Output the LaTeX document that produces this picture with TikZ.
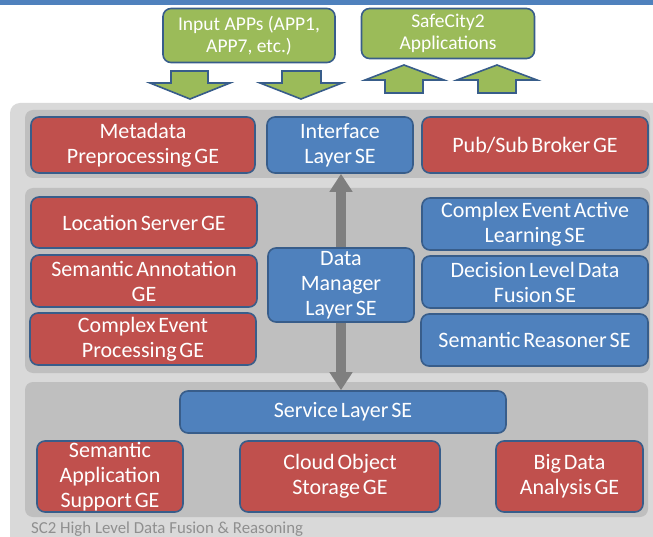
\documentclass[tikz,border=0pt]{standalone}
\usepackage{fontspec}
\setmainfont{Carlito}
\usetikzlibrary{arrows.meta}

\definecolor{topbar}{HTML}{4F81BD}
\definecolor{outerpanel}{HTML}{D9D9D9}
\definecolor{band}{HTML}{BFBFBF}
\definecolor{gered}{HTML}{C0504D}
\definecolor{seblue}{HTML}{4F81BD}
\definecolor{appgreen}{HTML}{9BBB59}
\definecolor{edge}{HTML}{385D8A}
\definecolor{linkgray}{HTML}{7F7F7F}
\definecolor{captiongray}{HTML}{8F8F8F}

\pgfdeclarelayer{panels}
\pgfdeclarelayer{links}
\pgfsetlayers{panels,links,main}

\newcommand{\boxfont}{\fontsize{22}{25}\selectfont\spaceskip=0.13em plus 0.05em\relax}

\begin{document}
\begin{tikzpicture}[x=1pt,y=-1pt,
  box/.style={draw=edge, line width=1.6pt, rounded corners=8pt, text=white,
    align=center, inner sep=0pt, font=\boxfont},
  ge/.style={box, fill=gered},
  se/.style={box, fill=seblue},
  app/.style={box, fill=appgreen, font=\fontsize{19.5}{22.5}\selectfont},
  wh/.style 2 args={minimum width=#1pt, minimum height=#2pt},
  blockarrow/.style={draw=edge, line width=1.6pt, fill=appgreen, line join=miter},
  band/.style={fill=band, rounded corners=8pt},
  link/.style={draw=linkgray, line width=10pt,
    {Triangle[width=22pt,length=18pt]}-{Triangle[width=22pt,length=18pt]}}
]
\useasboundingbox (0,0) rectangle (653,537);
\clip (0,0) rectangle (653,537);

% header strip
\fill[topbar] (0,0) rectangle (653,5);

% application boxes
\node[app, wh={172}{54}] (input) at (249,35.5) {Input APPs (APP1,\\APP7, etc.)};
\node[app, wh={173}{50}] (safecity) at (448,33.5) {SafeCity2\\Applications};

% block arrows into and out of the fusion platform
\draw[blockarrow] (171,71) -- (208,71) -- (208,83) -- (230,83) -- (190,99) -- (150,83) -- (171,83) -- cycle;
\draw[blockarrow] (282,71) -- (321,71) -- (321,83) -- (342,83) -- (301,99) -- (260,83) -- (282,83) -- cycle;
\draw[blockarrow] (385,93) -- (423,93) -- (423,80) -- (444,80) -- (404,65) -- (365,80) -- (385,80) -- cycle;
\draw[blockarrow] (478,93) -- (516,93) -- (516,80) -- (537,80) -- (497,65) -- (457,80) -- (478,80) -- cycle;

% platform panel and its three bands
\begin{pgfonlayer}{panels}
  \fill[outerpanel, rounded corners=10pt] (10,103) rectangle (700,600);
  \fill[band] (25,110) rectangle (650,178);
  \fill[band] (25,188) rectangle (650,373);
  \fill[band] (25,382) rectangle (648,517);
\end{pgfonlayer}

% top band
\node[ge, wh={224}{56}] (meta) at (143,145) {Metadata\\Preprocessing GE};
\node[se, wh={146}{56}] (iface) at (340,145) {Interface\\Layer SE};
\node[ge, wh={226}{56}] (pubsub) at (535,145) {Pub/Sub Broker GE};

% middle band
\node[ge, wh={226}{51}] (location) at (144,222.5) {Location Server GE};
\node[ge, wh={226}{52}] (annot) at (144,281) {Semantic Annotation\\GE};
\node[ge, wh={226}{52}] (cep) at (143,339) {Complex Event\\Processing GE};
\node[se, wh={146}{74}] (datamgr) at (341,285) {Data\\Manager\\Layer SE};
\node[se, wh={226}{52}] (ceal) at (535,224) {Complex Event Active\\Learning SE};
\node[se, wh={226}{52}] (dldf) at (535,282) {Decision Level Data\\Fusion SE};
\node[se, wh={227}{52}] (reasoner) at (534.5,340) {Semantic Reasoner SE};

% bottom band
\node[se, wh={326}{42}] (service) at (343,412) {Service Layer SE};
\node[ge, wh={146}{71}] (appsupport) at (110,476.5) {Semantic\\Application\\Support GE};
\node[ge, wh={200}{71}] (cloud) at (340,476.5) {Cloud Object\\Storage GE};
\node[ge, wh={147}{71}] (bigdata) at (569.5,476.5) {Big Data\\Analysis GE};

% interface <-> service link, passing behind the data manager
\begin{pgfonlayer}{links}
  \draw[link] (datamgr.center |- iface.south) -- (datamgr.center |- service.north);
\end{pgfonlayer}

% caption
\node[anchor=west, text=captiongray, inner sep=0pt, font=\fontsize{16.8}{19}\selectfont] (caption) at (31,529) {SC2 High Level Data Fusion \& Reasoning};
\end{tikzpicture}
\end{document}
